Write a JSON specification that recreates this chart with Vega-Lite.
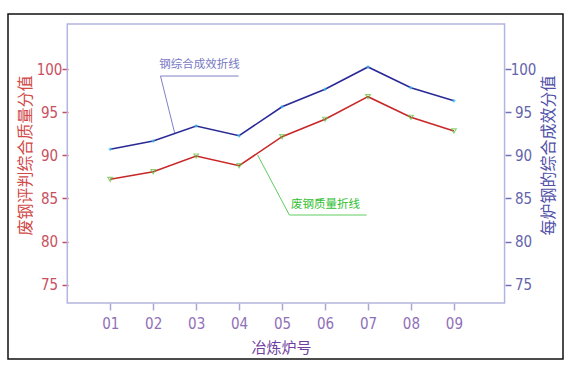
{
  "$schema": "https://vega.github.io/schema/vega-lite/v6.json",
  "autosize": "none",
  "width": 555,
  "height": 345,
  "padding": {"left": 8, "top": 14, "right": 16, "bottom": 21},
  "background": "white",
  "config": {
    "view": {"stroke": "#111111", "strokeWidth": 1.5},
    "axis": {"grid": false, "domain": false, "labelFont": "Liberation Sans Narrow, DejaVu Sans Condensed, sans-serif", "labelFontSize": 15, "titleFont": "Noto Sans CJK SC", "titleFontWeight": "normal", "titleFontSize": 16, "tickWidth": 1.5}
  },
  "datasets": {
    "furnace": [
      {"x": 1, "quality": 87.23, "effect": 90.72},
      {"x": 2, "quality": 88.12, "effect": 91.69},
      {"x": 3, "quality": 89.94, "effect": 93.43},
      {"x": 4, "quality": 88.81, "effect": 92.30},
      {"x": 5, "quality": 92.19, "effect": 95.67},
      {"x": 6, "quality": 94.21, "effect": 97.70},
      {"x": 7, "quality": 96.84, "effect": 100.29},
      {"x": 8, "quality": 94.44, "effect": 97.88},
      {"x": 9, "quality": 92.85, "effect": 96.37}
    ],
    "frame": [{"x": 0, "x2": 10.18, "y": 72.85, "y2": 105.29}],
    "leaderBlue": [
      {"x": 2.17, "x2": 3.99, "y": 99.24, "y2": 99.24},
      {"x": 2.17, "x2": 2.50, "y": 99.24, "y2": 92.62}
    ],
    "leaderGreen": [
      {"x": 5.17, "x2": 6.97, "y": 83.08, "y2": 83.08},
      {"x": 5.17, "x2": 4.43, "y": 83.08, "y2": 90.06}
    ],
    "labels": [
      {"x": 3.08, "y": 100.52, "label": "钢综合成效折线", "kind": "blue"},
      {"x": 6.01, "y": 84.24, "label": "废钢质量折线", "kind": "green"}
    ]
  },
  "encoding": {
    "x": {
      "field": "x", "type": "quantitative",
      "scale": {"domain": [-1.38, 11.54], "nice": false, "zero": false},
      "axis": {
        "values": [1, 2, 3, 4, 5, 6, 7, 8, 9],
        "labelExpr": "'0' + datum.value",
        "offset": -56,
        "tickSize": 7,
        "tickColor": "#a8a8d8",
        "labelColor": "#9070b8",
        "labelPadding": 6,
        "title": "冶炼炉号",
        "titleColor": "#7040a0",
        "titleFontSize": 15,
        "titleX": 273,
        "titleY": 44,
        "titleBaseline": "middle"
      }
    }
  },
  "layer": [
    {
      "data": {"name": "frame"},
      "mark": {"type": "rect", "filled": false, "stroke": "#b4b4e0", "strokeWidth": 1.5},
      "encoding": {
        "x2": {"field": "x2"},
        "y": {"field": "y", "type": "quantitative", "scale": {"domain": [66.34, 106.45], "nice": false, "zero": false}, "axis": null},
        "y2": {"field": "y2"}
      }
    },
    {
      "data": {"name": "leaderBlue"},
      "mark": {"type": "rule", "stroke": "#8080c8", "strokeWidth": 1},
      "encoding": {
        "x2": {"field": "x2"},
        "y": {"field": "y", "type": "quantitative", "scale": {"domain": [66.34, 106.45], "nice": false, "zero": false}, "axis": null},
        "y2": {"field": "y2"}
      }
    },
    {
      "data": {"name": "leaderGreen"},
      "mark": {"type": "rule", "stroke": "#60cc60", "strokeWidth": 1},
      "encoding": {
        "x2": {"field": "x2"},
        "y": {"field": "y", "type": "quantitative", "scale": {"domain": [66.34, 106.45], "nice": false, "zero": false}, "axis": null},
        "y2": {"field": "y2"}
      }
    },
    {
      "data": {"name": "labels"},
      "mark": {"type": "text", "font": "Noto Sans CJK SC", "fontSize": 11.5, "baseline": "middle", "align": "center"},
      "encoding": {
        "y": {"field": "y", "type": "quantitative", "scale": {"domain": [66.34, 106.45], "nice": false, "zero": false}, "axis": null},
        "text": {"field": "label"},
        "color": {"field": "kind", "type": "nominal", "scale": {"domain": ["blue", "green"], "range": ["#7878c4", "#30c030"]}, "legend": null}
      }
    },
    {
      "data": {"name": "furnace"},
      "mark": {"type": "line", "color": "#c82828", "strokeWidth": 1.6},
      "encoding": {
        "y": {
          "field": "quality", "type": "quantitative",
          "scale": {"domain": [66.34, 106.45], "nice": false, "zero": false},
          "axis": {
            "orient": "left",
            "values": [75, 80, 85, 90, 95, 100],
            "offset": -60,
            "tickSize": 6,
            "tickColor": "#c05060",
            "labelColor": "#c85060",
            "labelAlign": "center",
            "labelPadding": 13,
            "title": "废钢评判综合质量分值",
            "titleColor": "#d04848",
            "titleAngle": -90,
            "titleX": -43,
            "titleY": 141,
            "titleBaseline": "middle",
            "titleAlign": "center"
          }
        }
      }
    },
    {
      "data": {"name": "furnace"},
      "mark": {"type": "point", "shape": "triangle-down", "filled": false, "stroke": "#60c040", "strokeWidth": 1.2, "size": 22},
      "encoding": {
        "y": {"field": "quality", "type": "quantitative", "scale": {"domain": [66.34, 106.45], "nice": false, "zero": false}, "axis": null}
      }
    },
    {
      "data": {"name": "furnace"},
      "mark": {"type": "line", "color": "#2a2a96", "strokeWidth": 1.6},
      "encoding": {
        "y": {
          "field": "effect", "type": "quantitative",
          "scale": {"domain": [66.34, 106.45], "nice": false, "zero": false},
          "axis": {
            "orient": "right",
            "values": [75, 80, 85, 90, 95, 100],
            "offset": -58,
            "tickSize": 6,
            "tickColor": "#7070b8",
            "labelColor": "#6464ac",
            "labelAlign": "center",
            "labelPadding": 12,
            "title": "每炉钢的综合成效分值",
            "titleColor": "#5050a8",
            "titleAngle": -90,
            "titleX": 43,
            "titleY": 141,
            "titleBaseline": "middle",
            "titleAlign": "center"
          }
        }
      }
    },
    {
      "data": {"name": "furnace"},
      "mark": {"type": "point", "shape": "diamond", "filled": true, "color": "#40c0f0", "size": 16},
      "encoding": {
        "y": {"field": "effect", "type": "quantitative", "scale": {"domain": [66.34, 106.45], "nice": false, "zero": false}, "axis": null}
      }
    }
  ],
  "resolve": {"scale": {"y": "independent"}, "axis": {"y": "independent"}}
}
